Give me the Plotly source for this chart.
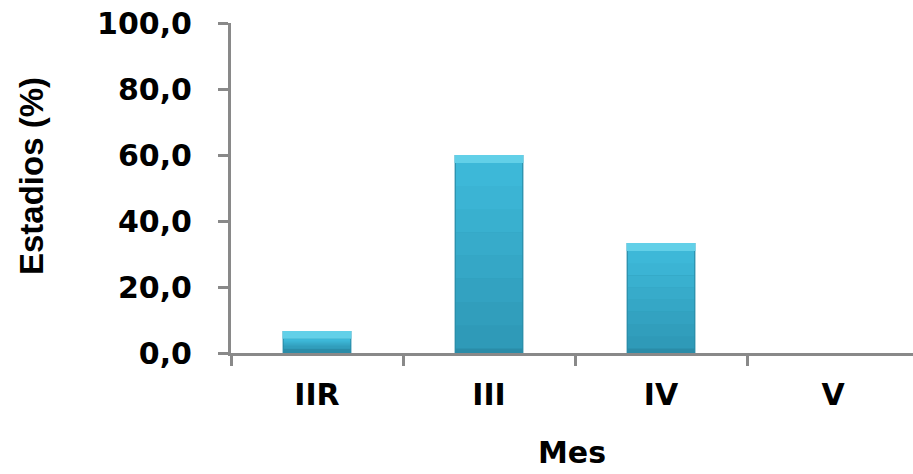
import numpy as np
import plotly.graph_objects as go

# Data
estadios = ["IIR", "III", "IV", "V"]
porcentaje = [6.7, 60.0, 33.3, 0.0]
y_ticks = [0, 20, 40, 60, 80, 100]

# Bevel styling (in axis units)
BEVEL_TOP = 2.4
BEVEL_BOTTOM = 1.4
BAR_W = 0.4
INNER_W = 0.386
N_BANDS = 8
TOP_COL = np.array([0x3E, 0xBB, 0xDB])
BOT_COL = np.array([0x2E, 0x98, 0xB6])

v = np.array(porcentaje, dtype=float)
has_bar = v > 0
top_base = np.where(has_bar, v - BEVEL_TOP, 0.0)
top_h = np.where(has_bar, BEVEL_TOP, 0.0)
body_h = np.where(has_bar, np.maximum(v - BEVEL_TOP - BEVEL_BOTTOM, 0.0), 0.0)

fig = go.Figure()

# Outer bar: darker edge colour (also forms the bottom bevel)
fig.add_trace(go.Bar(
    x=estadios, y=np.where(has_bar, v, 0.0), width=BAR_W,
    marker=dict(color="#2A8CA8", line=dict(width=0)),
    hoverinfo="skip",
))

# Body drawn as stacked bands to give a vertical gradient
for i in range(N_BANDS):
    t = (i + 0.5) / N_BANDS  # 0 = bottom, 1 = top
    rgb = (BOT_COL + (TOP_COL - BOT_COL) * t).astype(int)
    fig.add_trace(go.Bar(
        x=estadios, y=body_h / N_BANDS + np.where(has_bar, 0.05, 0.0),
        base=np.where(has_bar, BEVEL_BOTTOM + body_h * i / N_BANDS, 0.0),
        width=INNER_W,
        marker=dict(color="rgb(%d,%d,%d)" % tuple(rgb), line=dict(width=0)),
        hoverinfo="skip",
    ))

# Top highlight bevel
fig.add_trace(go.Bar(
    x=estadios, y=top_h, base=top_base, width=BAR_W,
    marker=dict(color="#62D0E8", line=dict(width=0)),
    hoverinfo="skip",
))

axis_col = "#898989"
tick_font = dict(family="DejaVu Sans", size=30, color="black", weight="bold")

fig.update_layout(
    width=913, height=474,
    margin=dict(l=231, r=0, t=23, b=121),
    paper_bgcolor="white", plot_bgcolor="white",
    barmode="overlay", showlegend=False,
    separators=", ",
    xaxis=dict(
        type="category", range=[-0.5, 3.465],
        showline=True, linecolor=axis_col, linewidth=3,
        ticks="outside", ticklen=10, tickwidth=3, tickcolor=axis_col,
        tickson="boundaries", showgrid=False, zeroline=False,
        tickfont=tick_font, ticklabelstandoff=13,
    ),
    yaxis=dict(
        range=[0, 100], tickvals=y_ticks, tickformat=".1f",
        showline=True, linecolor=axis_col, linewidth=3,
        ticks="outside", ticklen=10, tickwidth=3, tickcolor=axis_col,
        showgrid=False, zeroline=False,
        tickfont=tick_font, ticklabelstandoff=20,
    ),
    annotations=[
        dict(text="Mes", xref="paper", yref="paper",
             x=(572 - 231) / 682, y=(353 - 452) / 330,
             xanchor="center", yanchor="middle", showarrow=False,
             font=dict(family="DejaVu Sans", size=30, color="black", weight="bold")),
        dict(text="Estadios (%)", xref="paper", yref="paper",
             x=(31 - 231) / 682, y=(353 - 176) / 330, textangle=-90,
             xanchor="center", yanchor="middle", showarrow=False,
             font=dict(family="Liberation Sans", size=33, color="black", weight="bold")),
    ],
)

fig.write_html("out.html")
